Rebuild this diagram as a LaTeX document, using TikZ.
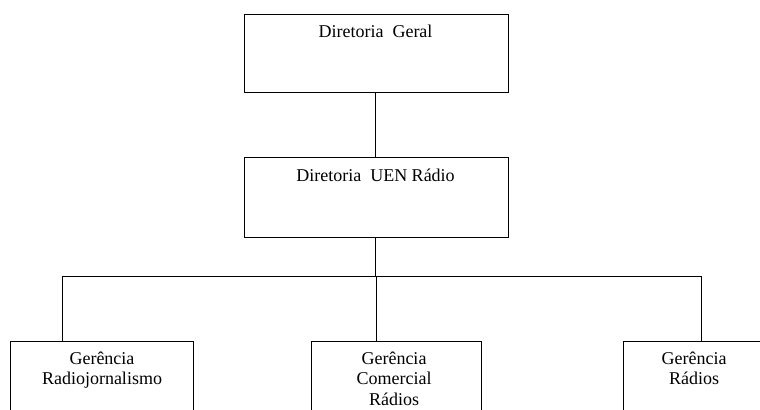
\documentclass[tikz,border=0pt]{standalone}
\usepackage{fontspec}
\setmainfont{Liberation Serif}
\begin{document}
\begin{tikzpicture}[x=1bp,y=-1bp,
  box/.style={draw=black,line width=0.9bp,rectangle,inner sep=0pt,anchor=north west},
  lbl/.style={anchor=north,inner sep=0pt,align=center,font=\fontsize{18bp}{20.5bp}\selectfont},
  conn/.style={draw=black,line width=0.9bp}]
\useasboundingbox (0,0) rectangle (760,409);
\clip (0,0) rectangle (760,409);
\fill[white] (0,0) rectangle (760,409);
% boxes
\node[box,minimum width=264bp,minimum height=78bp] (geral) at (244,14) {};
\node[box,minimum width=264bp,minimum height=80bp] (uen) at (244,157) {};
\node[box,minimum width=183bp,minimum height=90bp] (rj) at (10,341) {};
\node[box,minimum width=170bp,minimum height=90bp] (com) at (311,341) {};
\node[box,minimum width=150bp,minimum height=90bp] (rad) at (623,341) {};
% labels
\node[lbl] (tgeral) at (375.5,24.5) {Diretoria\ \ Geral};
\node[lbl] (tuen) at (375.5,169) {Diretoria\ \ UEN Rádio};
\node[lbl] (trj) at (102,351.5) {Gerência\\Radiojornalismo};
\node[lbl] (tcom) at (394,351.5) {Gerência\\Comercial\\Rádios};
\node[lbl] (trad) at (694,351.5) {Gerência\\Rádios};
% connectors
\coordinate (bus) at (375,276);
\coordinate (jl) at (62,276);
\coordinate (jm) at (376,276);
\coordinate (jr) at (701,276);
\draw[conn] (geral.south -| bus) -- (uen.north -| bus);
\draw[conn] (uen.south -| bus) -- (bus);
\draw[conn] (jl) -- (jr);
\draw[conn] (jl) -- (jl |- rj.north);
\draw[conn] (jm) -- (jm |- com.north);
\draw[conn] (jr) -- (jr |- rad.north);
\end{tikzpicture}
\end{document}
